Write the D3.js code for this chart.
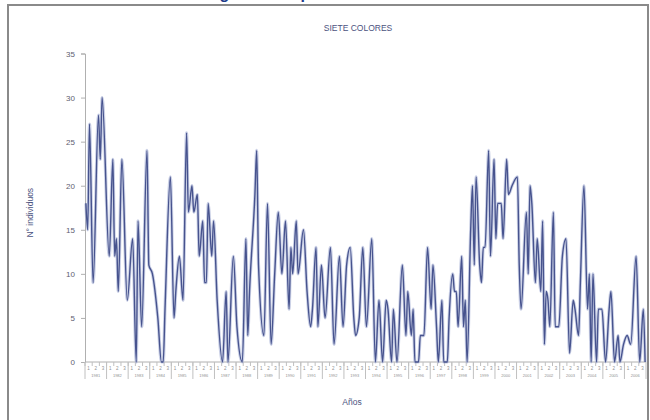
<!DOCTYPE html>
<html>
<head>
<meta charset="utf-8">
<script src="https://cdn.jsdelivr.net/npm/d3@7"></script>
<style>
  html, body { margin: 0; padding: 0; background: #fff; }
  svg { display: block; }
</style>
</head>
<body>
<svg id="chart" width="650" height="420"></svg>
<script>
// ---- data ----
const chartTitle = "SIETE COLORES";
const yTitle = "N° individuos";
const xTitle = "Años";
const years = ["1981","1982","1983","1984","1985","1986","1987","1988","1989","1990","1991","1992","1993",
               "1994","1995","1996","1997","1998","1999","2000","2001","2002","2003","2004","2005","2006"];
const subLabels = ["1","2","3"];
const yTicks = [0,5,10,15,20,25,30,35];
// month index of each observation (0 = first month of first year)
const months = [0,1,2,4,7,8,9,13,15,16,17,18,20,23,26,28,29,31,34,35,37,40,42,43,44,47,49,50,52,54,56,57,59,60,62,63,65,66,67,68,70,71,73,76,78,79,82,84,87,89,90,91,94,95,96,99,101,103,105,107,109,111,113,114,115,117,118,121,123,125,126,128,129,131,133,136,138,141,143,145,147,149,150,152,154,156,159,161,163,165,167,168,170,171,173,176,178,179,181,182,183,185,186,188,190,192,193,195,196,198,199,201,202,204,205,206,207,209,210,211,212,214,215,216,217,219,220,221,222,224,225,227,228,229,231,232,234,235,237,240,241,242,245,246,247,248,250,251,253,254,255,256,257,258,260,261,263,265,267,269,271,272,274,275,277,279,280,281,282,284,285,287,289,291,292,294,296,297,299,301,303,306,308,310,311];
const counts = [18,15,27,9,28,23,30,12,23,12,14,8,23,7,14,0,16,4,24,11,10,5,0,0,6,21,5,8,12,7,26,17,20,17,19,12,16,9,9,18,12,16,7,0,8,0,12,4,0,14,3,8,19,24,11,3,18,2,10,17,10,16,6,13,10,16,10,15,8,4,6,13,4,11,5,13,2,12,4,11,13,5,3,5,13,4,14,0,7,0,7,6,0,6,0,11,3,8,3,6,0,0,3,3,13,6,11,4,0,7,0,0,5,10,8,8,4,12,4,7,0,15,20,11,21,11,9,13,13,24,12,23,14,18,18,14,23,19,20,21,11,6,17,10,20,18,9,14,8,16,2,8,7,4,17,4,4,12,14,1,7,6,3,9,20,6,10,0,10,0,6,6,0,6,8,0,3,0,2,3,2,12,0,6,0];

const svg = d3.select("#chart");
const FONT = "Liberation Sans, Arial, sans-serif";

// outer frame
svg.append("rect").attr("x", 8).attr("y", 5).attr("width", 640).attr("height", 430)
  .attr("fill", "#fff").attr("stroke", "#8a8a8a").attr("stroke-width", 2);

// heading of the page, cut off at the top edge as in the source picture
svg.append("text").attr("x", 200).attr("y", -1)
  .attr("font-family", FONT).attr("font-weight", "bold")
  .attr("font-size", 16).attr("fill", "#1d3a8a").text("Seguimiento poblacional");

const margin = {left: 85, right: 646, top: 53.5, bottom: 362};
const nMonths = years.length * 12;
const x = d3.scaleLinear().domain([-0.5, nMonths - 0.5]).range([margin.left, margin.right]);
const y = d3.scaleLinear().domain([0, 35]).range([margin.bottom, margin.top]);

// title
svg.append("text").attr("x", 358).attr("y", 31).attr("text-anchor", "middle")
  .attr("font-family", FONT).attr("font-size", 8.5)
  .attr("fill", "#4b5280").text(chartTitle);

// y axis
const yAxis = d3.axisLeft(y).tickValues(yTicks).tickSize(4).tickPadding(6);
const gy = svg.append("g").attr("transform", `translate(${margin.left},0)`).call(yAxis);
gy.select(".domain").attr("stroke", "#b0b0b0");
gy.selectAll(".tick line").attr("stroke", "#b0b0b0");
gy.selectAll(".tick text").attr("font-family", FONT)
  .attr("font-size", 8).attr("fill", "#5e6070");

svg.append("text").attr("transform", `translate(33,${(margin.top + margin.bottom) / 2 + 5}) rotate(-90)`)
  .attr("text-anchor", "middle").attr("font-family", FONT)
  .attr("font-size", 8.5).attr("fill", "#4b5280").text(yTitle);

// x axis: multilevel category axis (years with sub-groups)
const gx = svg.append("g");
gx.append("line").attr("x1", margin.left).attr("x2", margin.right)
  .attr("y1", margin.bottom).attr("y2", margin.bottom).attr("stroke", "#b0b0b0");
const subTicks = d3.range(years.length * subLabels.length);
gx.selectAll("line.sub").data(subTicks).join("line").attr("class", "sub")
  .attr("x1", d => x(d * 12 / subLabels.length - 0.5)).attr("x2", d => x(d * 12 / subLabels.length - 0.5))
  .attr("y1", margin.bottom).attr("y2", margin.bottom + 4).attr("stroke", "#c0c0c0");
gx.selectAll("line.yr").data(d3.range(years.length + 1)).join("line").attr("class", "yr")
  .attr("x1", d => x(d * 12 - 0.5)).attr("x2", d => x(d * 12 - 0.5))
  .attr("y1", margin.bottom).attr("y2", margin.bottom + 17).attr("stroke", "#c0c0c0");
gx.selectAll("text.sub").data(subTicks).join("text").attr("class", "sub")
  .attr("x", d => x((d + 0.5) * 12 / subLabels.length - 0.5)).attr("y", margin.bottom + 8)
  .attr("text-anchor", "middle").attr("font-family", FONT)
  .attr("font-size", 4.5).attr("fill", "#909090").text(d => subLabels[d % subLabels.length]);
gx.selectAll("text.yr").data(years).join("text").attr("class", "yr")
  .attr("x", (d, i) => x(i * 12 + 5.5)).attr("y", margin.bottom + 15)
  .attr("text-anchor", "middle").attr("font-family", FONT)
  .attr("font-size", 4).attr("fill", "#909090").text(d => d);

svg.append("text").attr("x", 352).attr("y", 405).attr("text-anchor", "middle")
  .attr("font-family", FONT).attr("font-size", 8.5)
  .attr("fill", "#4b5280").text(xTitle);

// series line
const pts = months.map((m, i) => [m, counts[i]]);
const line = d3.line().x(d => x(d[0])).y(d => y(d[1])).curve(d3.curveMonotoneX);
svg.append("path").datum(pts).attr("d", line).attr("fill", "none")
  .attr("stroke", "#a9b2d6").attr("stroke-width", 3.2).attr("stroke-opacity", 0.6);
svg.append("path").datum(pts).attr("d", line).attr("fill", "none")
  .attr("stroke", "#47538e").attr("stroke-width", 1.4);
</script>
</body>
</html>
